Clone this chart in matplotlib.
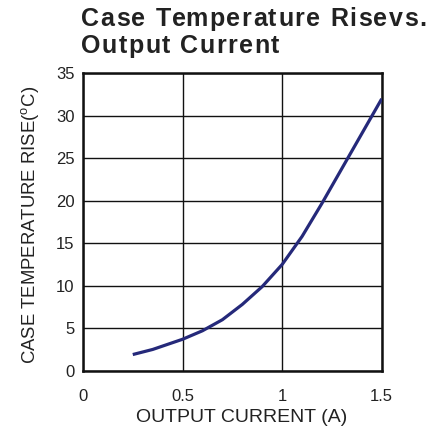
import matplotlib
matplotlib.use("Agg")
import matplotlib.pyplot as plt

current = [0.25, 0.35, 0.5, 0.6, 0.7, 0.8, 0.9, 1.0, 1.1, 1.2, 1.3, 1.4, 1.5]
temp_rise = [1.9, 2.5, 3.7, 4.7, 6.0, 7.8, 9.9, 12.5, 15.8, 19.7, 23.8, 27.9, 32.0]
x_ticks = [0, 0.5, 1, 1.5]
x_tick_labels = ["0", "0.5", "1", "1.5"]
y_ticks = [0, 5, 10, 15, 20, 25, 30, 35]
title_lines = ["Case Temperature Risevs.", "Output Current"]

plt.rcParams['font.family'] = ['Liberation Sans', 'DejaVu Sans']
plt.rcParams['mathtext.fontset'] = 'custom'
plt.rcParams['mathtext.rm'] = 'Liberation Sans'

W, H = 445, 433
fig = plt.figure(figsize=(W / 100, H / 100), dpi=100)
ax = fig.add_axes([0.1865, 0.1439, 0.6713, 0.6868])

ax.plot(current, temp_rise, color='#25297a', lw=2.3, solid_capstyle='butt',
        solid_joinstyle='round', zorder=3)

ax.set_xlim(0, 1.5)
ax.set_ylim(0, 35)
ax.set_xticks(x_ticks)
ax.set_xticklabels(x_tick_labels)
ax.set_yticks(y_ticks)
ax.tick_params(length=0, labelsize=12, colors='#222222')
ax.tick_params(axis='x', pad=13)
ax.tick_params(axis='y', pad=6)
ax.grid(True, color='#111111', lw=1.0)
for s in ax.spines.values():
    s.set_linewidth(1.8)
    s.set_color('#111111')

ax.set_xlabel("OUTPUT CURRENT (A)", fontsize=14, color='#222222', labelpad=4)
ax.xaxis.label.set_x(0.5 + 9 / 298)
ax.set_ylabel("CASE TEMPERATURE RISE($^{\\rm o}$C)", fontsize=13.3, color='#222222', labelpad=11)
ax.yaxis.label.set_y(0.5 - 3 / 297)

# Title with letter spacing (tracking), drawn character by character
renderer = fig.canvas.get_renderer()
tprops = dict(fontsize=18, fontweight='bold', color='#222222', va='baseline', ha='left')
tracking = 1.5  # px
baselines = [26, 53]  # px from top


def text_width(s):
    t = fig.text(0, 0, s + "|", **tprops)
    w = t.get_window_extent(renderer).width
    t.remove()
    t2 = fig.text(0, 0, "|", **tprops)
    w2 = t2.get_window_extent(renderer).width
    t2.remove()
    return w - w2


for line, base in zip(title_lines, baselines):
    x0 = 81
    for i, ch in enumerate(line):
        if ch == " ":
            continue
        xpx = x0 + text_width(line[:i]) + i * tracking
        fig.text(xpx / W, 1 - base / H, ch, **tprops)

fig.savefig("out.png", dpi=100)
